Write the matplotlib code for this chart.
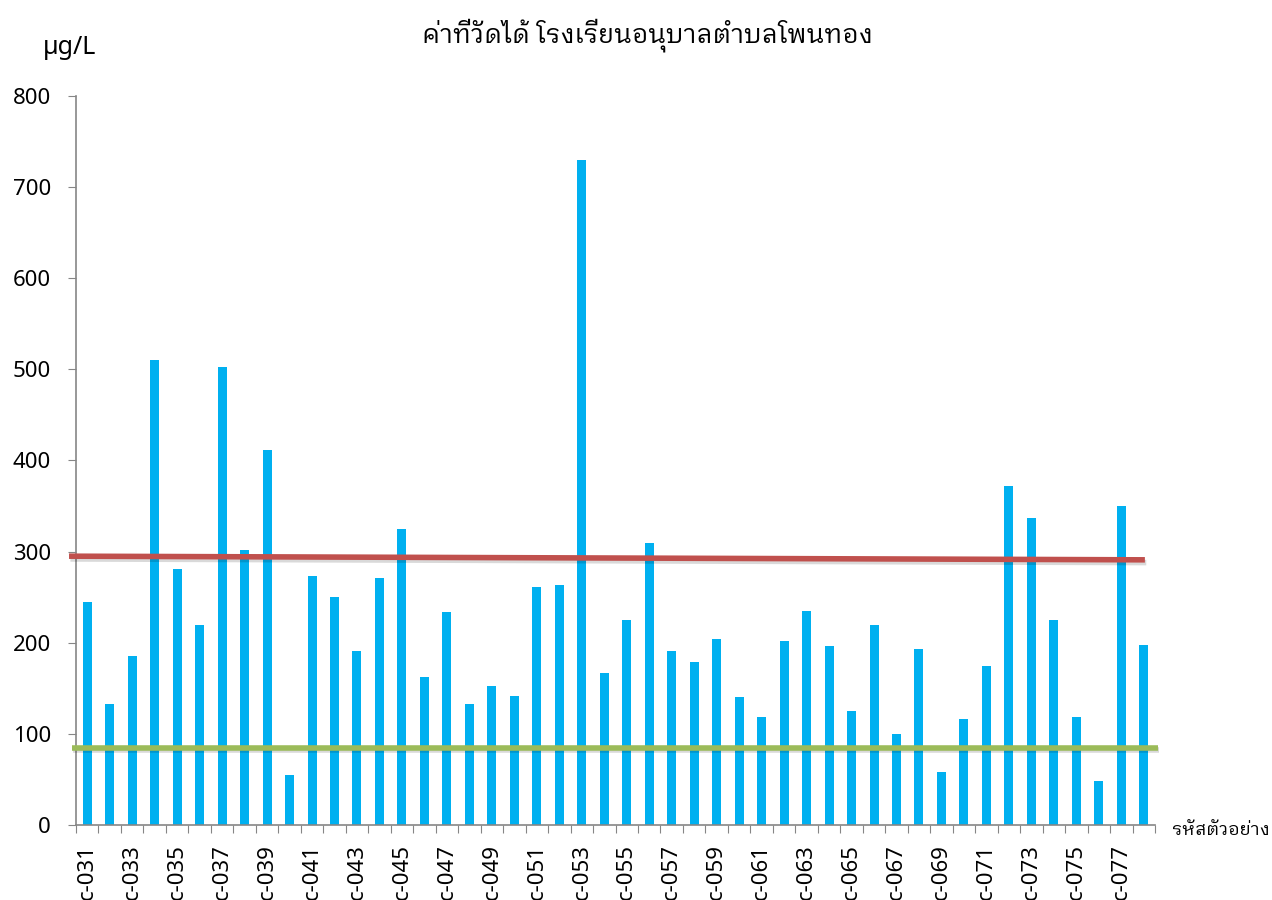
import matplotlib
matplotlib.use("Agg")
import matplotlib.pyplot as plt
import matplotlib.patheffects as pe
import numpy as np

# รหัสตัวอย่าง c-031 .. c-078 and measured values (µg/L)
codes = [f"c-{n:03d}" for n in range(31, 79)]
values = [245, 133, 186, 510, 281, 219, 503, 302, 412, 55,
          273, 250, 191, 271, 325, 162, 234, 133, 152, 142,
          261, 263, 730, 167, 225, 310, 191, 179, 204, 141,
          119, 202, 235, 196, 125, 220, 100, 193, 58, 116,
          174, 372, 337, 225, 118, 48, 350, 197]

# reference lines: (x start, x end) in category units, (y start, y end)
red_x = [-0.81, 47.05]
red_y = [295, 291]
green_x = [-0.68, 47.63]
green_y = [85, 85]

title = "ค่าที่วัดได้ โรงเรียนอนุบาลตำบลโพนทอง"
unit = "µg/L"
xlab = "รหัสตัวอย่าง"

# Latin first, Thai glyphs come from a looped Thai face
plt.rcParams['font.family'] = ['Noto Sans', 'Noto Sans Thai Looped', 'DejaVu Sans']
thai_fam = ['IBM Plex Sans Thai Looped', 'Noto Sans Thai Looped', 'DejaVu Sans']

fig = plt.figure(figsize=(12.72, 9), dpi=100)
ax = fig.add_axes([76 / 1272, 1 - 825 / 900, (1155 - 76) / 1272, (825 - 96) / 900])

x = np.arange(len(codes))
ax.bar(x, values, width=0.4, color='#00B0F0', zorder=2)

shadow = [pe.SimpleLineShadow(offset=(1, -2), alpha=0.15, rho=0.6), pe.Normal()]
ax.plot(red_x, red_y, color='#C0504D', lw=4, solid_capstyle='butt',
        clip_on=False, zorder=3, path_effects=shadow)
ax.plot(green_x, green_y, color='#9BBB59', lw=4, solid_capstyle='butt',
        clip_on=False, zorder=3, path_effects=shadow)

ax.set_xlim(-0.5, len(codes) - 0.5)
ax.set_ylim(0, 800)
ax.set_yticks(range(0, 801, 100))
ax.tick_params(axis='y', direction='out', length=6, color='#868686',
               labelsize=16, pad=12)

# boundary ticks on the category axis, labels on every other code
ax.set_xticks(np.arange(-0.5, len(codes), 1.0))
ax.set_xticklabels([])
ax.tick_params(axis='x', which='major', direction='out', length=6, color='#868686')
ax.set_xticks(x[::2], minor=True)
ax.set_xticklabels(codes[::2], minor=True, rotation=90, fontsize=16)
ax.tick_params(axis='x', which='minor', length=0, pad=14)

for s in ['top', 'right']:
    ax.spines[s].set_visible(False)
for s in ['left', 'bottom']:
    ax.spines[s].set_color('#868686')
    ax.spines[s].set_linewidth(1.2)

fig.text(648 / 1272, 1 - 35 / 900, title, ha='center', va='center',
         fontsize=18.5, family=thai_fam)
fig.text(70 / 1272, 1 - 48 / 900, unit, ha='center', va='center', fontsize=18)
fig.text(1172 / 1272, 1 - 830 / 900, xlab, ha='left', va='center',
         fontsize=13, family=thai_fam)

fig.savefig("out.png", dpi=100)
